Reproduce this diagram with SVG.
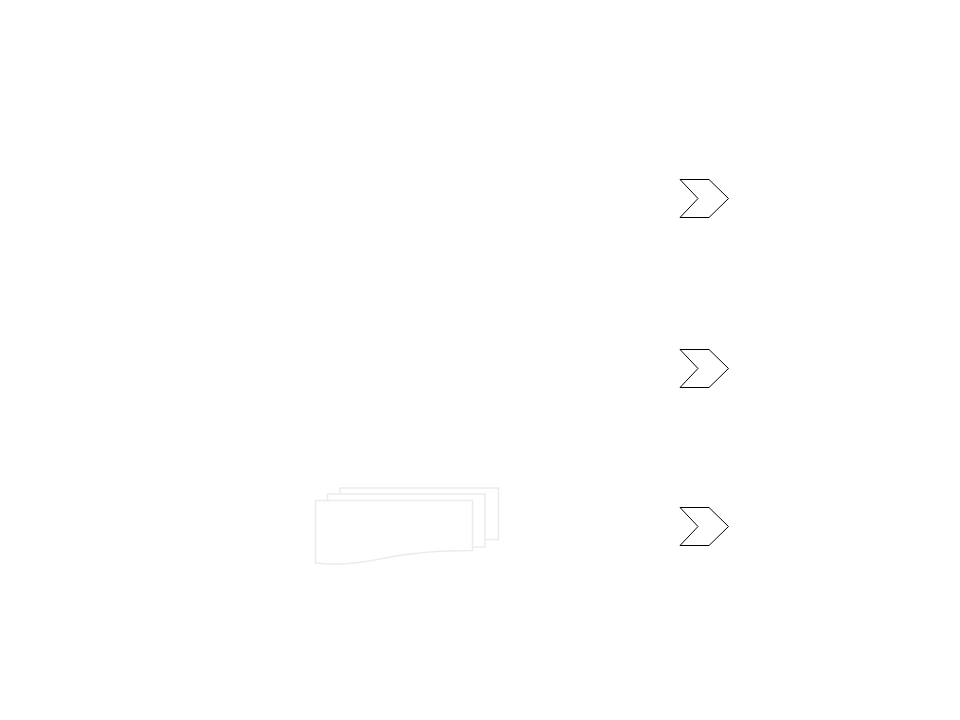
<svg xmlns="http://www.w3.org/2000/svg" width="960" height="720" viewBox="0 0 960 720">
<style>
.chev{fill:#ffffff;stroke:#000000;stroke-width:1}
.doc{fill:#ffffff;stroke:#ebebeb;stroke-width:1.5}
</style>
<rect width="960" height="720" fill="#ffffff"/>
<g id="docs">
<rect class="doc" x="340" y="488" width="158.5" height="51.5"/>
<rect class="doc" x="327.5" y="494" width="157.5" height="53"/>
<path class="doc" d="M315.5,500.5 H472.5 V550.5 C440,550.5 415,552 385,558 C362,563 340,566 315.5,563 Z"/>
</g>
<g id="chevron1">
<polygon class="chev" points="680,179.5 709,179.5 728.5,198.5 709,217.5 680,217.5 698,198.5"/>
</g>
<g id="chevron2">
<polygon class="chev" points="680,349.5 709,349.5 728.5,368.5 709,387.5 680,387.5 698,368.5"/>
</g>
<g id="chevron3">
<polygon class="chev" points="680,507.5 709,507.5 728.5,526.5 709,545.5 680,545.5 698,526.5"/>
</g>
<g id="connectors"></g>
</svg>
